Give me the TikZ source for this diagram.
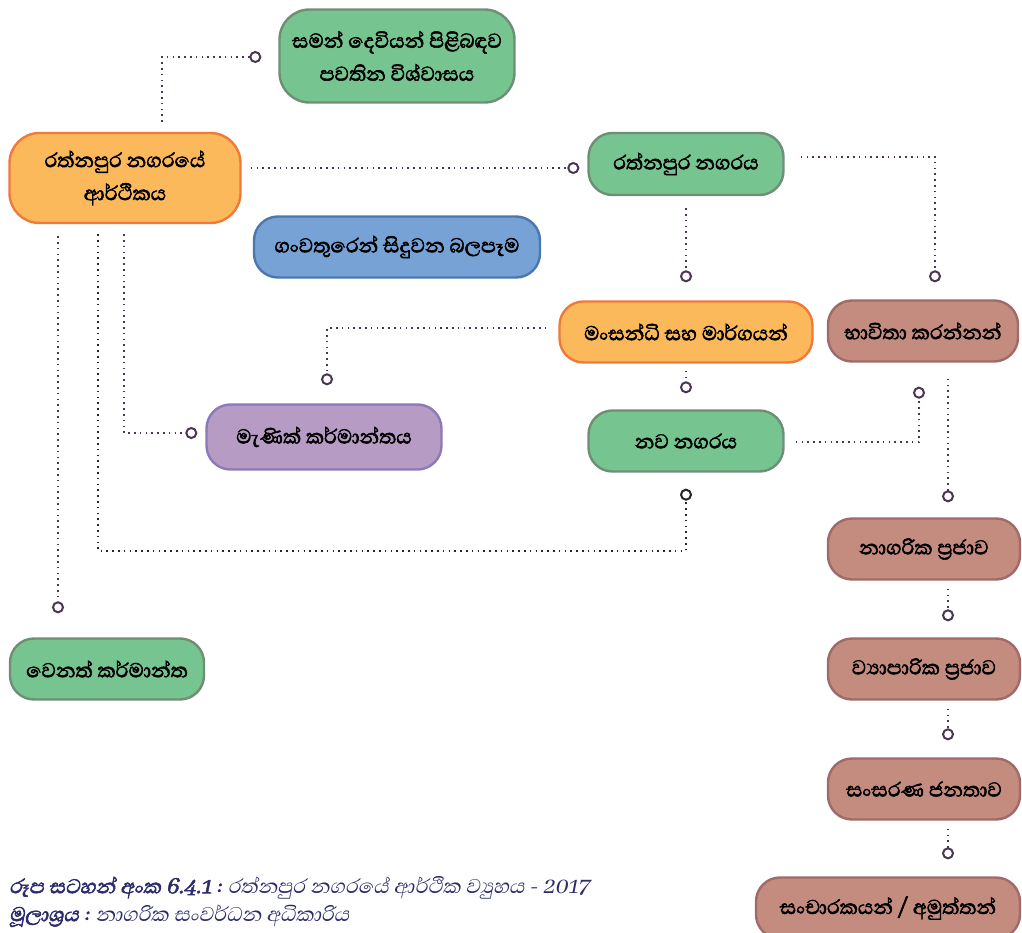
\documentclass[tikz,border=0pt]{standalone}
\usepackage{fontspec}
\setmainfont[Script=Sinhala]{Abhaya Libre}
\newfontfamily\boxfont[Script=Sinhala,FakeBold=2.2]{Abhaya Libre}
\newfontfamily\capfont[Script=Sinhala,FakeSlant=0.2]{Abhaya Libre}
\newfontfamily\capbold[Script=Sinhala,FakeSlant=0.2,FakeBold=2.2]{Abhaya Libre}
\usetikzlibrary{arrows.meta}
\definecolor{grnfill}{HTML}{76C48F}
\definecolor{grnline}{HTML}{6E8F76}
\definecolor{orgfill}{HTML}{FBB95B}
\definecolor{orgline}{HTML}{F07A3A}
\definecolor{blufill}{HTML}{76A2D6}
\definecolor{bluline}{HTML}{4A77AE}
\definecolor{prpfill}{HTML}{B69CC4}
\definecolor{prpline}{HTML}{8A7AB8}
\definecolor{brnfill}{HTML}{C48B7F}
\definecolor{brnline}{HTML}{A06A6A}
\definecolor{linkc}{HTML}{4B3553}
\definecolor{capc}{HTML}{2B2C6C}
\begin{document}
\begin{tikzpicture}[x=1pt,y=1pt,
  box/.style={draw, line width=2.4pt, rounded corners=24pt, align=center, inner sep=0pt,
    minimum height=61pt, font=\boxfont\fontsize{25.5}{33}\selectfont},
  grn/.style={box, fill=grnfill, draw=grnline},
  org/.style={box, fill=orgfill, draw=orgline},
  blu/.style={box, fill=blufill, draw=bluline},
  prp/.style={box, fill=prpfill, draw=prpline},
  brn/.style={box, fill=brnfill, draw=brnline},
  link/.style={draw=linkc, line width=1.6pt, dash pattern=on 1.6pt off 4.2pt,
    -{Circle[length=12pt, width=12pt, line width=2pt, fill=white]}},
  blink/.style={link, draw=black!85}]
\useasboundingbox (0,0) rectangle (1022,-933);
\node[grn, minimum width=235pt, minimum height=93pt, rounded corners=30pt] (saman) at (397,-56) {සමන් දෙවියන් පිළිබඳව\\පවතින විශ්වාසය};
\node[org, minimum width=231pt, minimum height=90pt, rounded corners=30pt] (econ) at (125,-178) {රත්නපුර නගරයේ\\ආර්ථිකය};
\node[grn, minimum width=195pt, minimum height=62pt] (city) at (686,-164) {රත්නපුර නගරය};
\node[blu, minimum width=286pt] (ganga) at (397,-247) {ගංවතුරෙන් සිදුවන බලපෑම};
\node[org, minimum width=253pt] (junc) at (686,-332) {මංසන්ධි සහ මාර්ගයන්};
\node[brn, minimum width=190pt] (users) at (923,-331) {භාවිතා කරන්නන්};
\node[prp, minimum width=235pt, minimum height=65pt] (gem) at (324,-437) {මැණික් කර්මාන්තය};
\node[grn, minimum width=195pt] (newcity) at (686,-441) {නව නගරය};
\node[grn, minimum width=194pt] (other) at (107,-669) {වෙනත් කර්මාන්ත};
\node[brn, minimum width=192pt] (citizen) at (924,-549) {නාගරික ප්‍රජාව};
\node[brn, minimum width=192pt] (business) at (924,-669) {ව්‍යාපාරික ප්‍රජාව};
\node[brn, minimum width=192pt] (floating) at (924,-789) {සංසරණ ජනතාව};
\node[brn, minimum width=264pt] (tourist) at (888,-908) {සංචාරකයන් / අමුත්තන්};
\node[anchor=north west, align=left, inner sep=0pt, text=capc,
  font=\capfont\fontsize{25.5}{28}\selectfont] (cap) at (9,-876)
  {{\capbold රූප සටහන් අංක 6.4.1 :} රත්නපුර නගරයේ ආර්ථික ව්‍යුහය - 2017\\
   {\capbold මූලාශ්‍රය :} නාගරික සංවර්ධන අධිකාරිය};
\draw[link] ([xshift=37pt,yshift=10pt]econ.north) |- ([xshift=-17pt,yshift=-1pt]saman.west);
\draw[link] ([xshift=9pt,yshift=10pt]econ.east) -- ([xshift=-8pt,yshift=-4pt]city.west);
\draw[link] ([yshift=-12pt]city.south) -- ([yshift=18pt]junc.north);
\draw[link] ([xshift=16pt,yshift=7pt]city.east) -| ([xshift=12pt,yshift=17pt]users.north);
\draw[link] ([xshift=-12pt,yshift=4pt]junc.west) -| ([xshift=3pt,yshift=18pt]gem.north);
\draw[link] ([yshift=-7pt]junc.south) -- ([yshift=16pt]newcity.north);
\draw[link] ([xshift=11pt,yshift=-1pt]newcity.east) -| ([xshift=-4pt,yshift=-24pt]users.south);
\draw[link] ([xshift=25pt,yshift=-16pt]users.south) -- ([xshift=24pt,yshift=15pt]citizen.north);
\draw[link] ([xshift=24pt,yshift=-8pt]citizen.south) -- ([xshift=24pt,yshift=16pt]business.north);
\draw[link] ([xshift=24pt,yshift=-8pt]business.south) -- ([xshift=24pt,yshift=17pt]floating.north);
\draw[link] ([xshift=24pt,yshift=-8pt]floating.south) -- ([xshift=60pt,yshift=17pt]tourist.north);
\draw[link] ([xshift=-67pt,yshift=-12pt]econ.south) -- ([xshift=-49pt,yshift=24pt]other.north);
\draw[blink] ([xshift=-27pt,yshift=-10pt]econ.south) |- ([yshift=-78pt]newcity.south) -- ([yshift=-16pt]newcity.south);
\draw[link] ([xshift=-1pt,yshift=-10pt]econ.south) |- ([xshift=-8pt,yshift=4pt]gem.west);
\end{tikzpicture}
\end{document}
